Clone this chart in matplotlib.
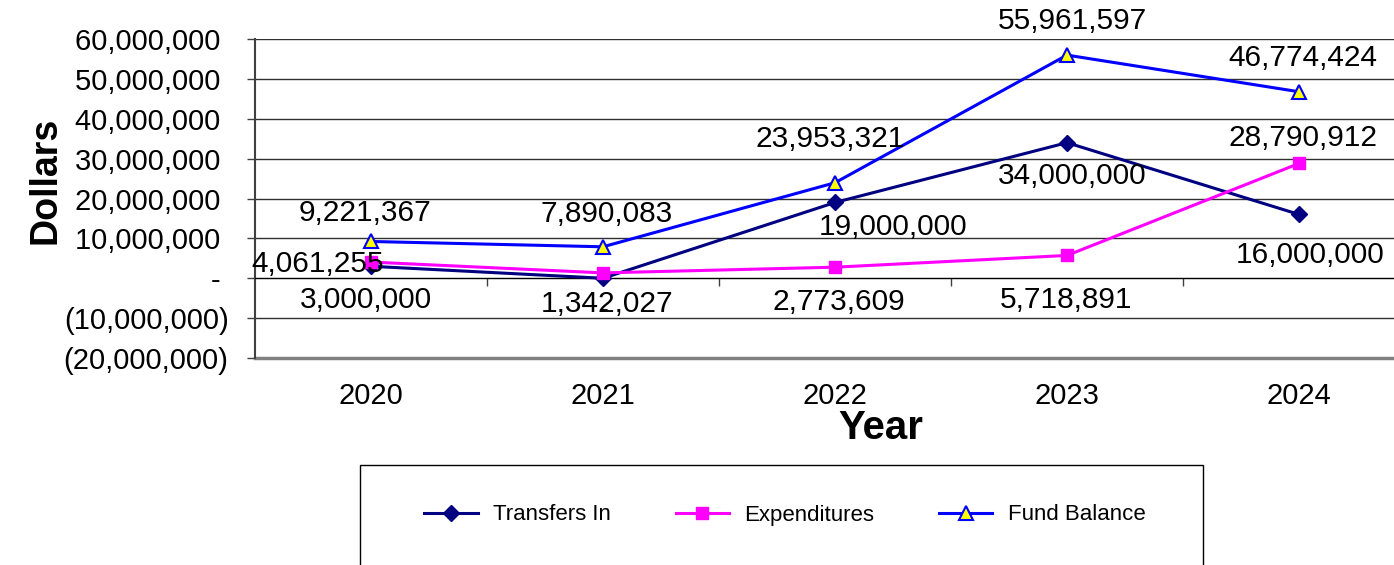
import matplotlib
matplotlib.use("Agg")
import matplotlib.pyplot as plt
from matplotlib.ticker import FixedLocator, FuncFormatter
from matplotlib.patches import Rectangle

plt.rcParams['font.family'] = ['Liberation Sans', 'DejaVu Sans']

years = ['2020', '2021', '2022', '2023', '2024']
transfers_in = [3000000, 0, 19000000, 34000000, 16000000]
expenditures = [4061255, 1342027, 2773609, 5718891, 28790912]
fund_balance = [9221367, 7890083, 23953321, 55961597, 46774424]

# label offsets in pixels (dx, dy), dy downward
off_tr = [(-5, 34), (1, 32), (58, 25), (5, 33), (11, 41)]
off_ex = [(-53, 2), (4, 31), (4, 35), (-1, 45), (4, -25)]
off_fb = [(-6, -28), (4, -33), (-5, -44), (5, -34), (4, -34)]

W, H = 1394, 565
fig = plt.figure(figsize=(W / 100, H / 100), dpi=100)
ax = fig.add_axes([255 / W, 1 - 358 / H, 1160 / W, 319 / H])

x = list(range(len(years)))
ax.plot(x, transfers_in, color='#000080', lw=2.2, marker='D', ms=8,
        mfc='#000080', mec='#000080', label='Transfers In', zorder=3)
ax.plot(x, expenditures, color='#FF00FF', lw=2.2, marker='s', ms=9,
        mfc='#FF00FF', mec='#FF00FF', label='Expenditures', zorder=3)
ax.plot(x, fund_balance, color='#0000FF', lw=2.2, marker='^', ms=10,
        mfc='#FFFF00', mec='#0000FF', mew=1.5, label='Fund Balance', zorder=4)

def lab(v):
    return '-' if v == 0 else '{:,.0f}'.format(v)

for vals, offs in [(transfers_in, off_tr), (expenditures, off_ex), (fund_balance, off_fb)]:
    for i, v in enumerate(vals):
        ax.annotate(lab(v), (i, v), xytext=(offs[i][0], -offs[i][1]),
                    textcoords='offset pixels', ha='center', va='center',
                    fontsize=21.5, color='black', zorder=5, annotation_clip=False)

ax.set_xlim(-0.5, 4.5)
ax.set_ylim(-20000000, 60000000)
ax.set_yticks(range(-20000000, 60000001, 10000000))

def yfmt(v, pos):
    if v < 0:
        return '({:,.0f})'.format(-v)
    if v == 0:
        return '- '
    return '{:,.0f} '.format(v)

ax.yaxis.set_major_formatter(FuncFormatter(yfmt))
ax.tick_params(axis='y', direction='out', length=6, width=1, pad=13,
               labelsize=21, color='#404040')
ax.yaxis.grid(True, color='#303030', lw=1)
ax.set_axisbelow(True)

ax.spines['bottom'].set_position(('data', 0))
ax.spines['bottom'].set_color('black')
ax.spines['top'].set_visible(False)
ax.spines['right'].set_visible(False)
ax.spines['left'].set_color('#404040')
ax.spines['left'].set_linewidth(1.5)
ax.set_xticks(x)
ax.set_xticklabels(years)
ax.xaxis.set_minor_locator(FixedLocator([0.5, 1.5, 2.5, 3.5]))
ax.tick_params(axis='x', which='major', length=0, pad=75, labelsize=21)
ax.tick_params(axis='x', which='minor', direction='out', length=6, width=1,
               color='#404040')
ax.axhline(-20000000, color='#808080', lw=2.5, clip_on=False, zorder=2)

fig.text(45 / W, 1 - 180 / H, 'Dollars', rotation=90, ha='center', va='center',
         fontsize=27, fontweight='bold')
fig.text(881 / W, 1 - 428 / H, 'Year', ha='center', va='center',
         fontsize=29, fontweight='bold')

fig.patches.append(Rectangle((360 / W, -0.1), 843 / W, 1 - 465 / H + 0.1,
                             transform=fig.transFigure, fill=False,
                             edgecolor='black', lw=1))
fig.legend(loc='center', bbox_to_anchor=(785 / W, 1 - 515 / H), ncol=3,
           frameon=False, fontsize=16, handlelength=2.4, columnspacing=2.9,
           handletextpad=0.7)

fig.savefig('out.png', dpi=100)
